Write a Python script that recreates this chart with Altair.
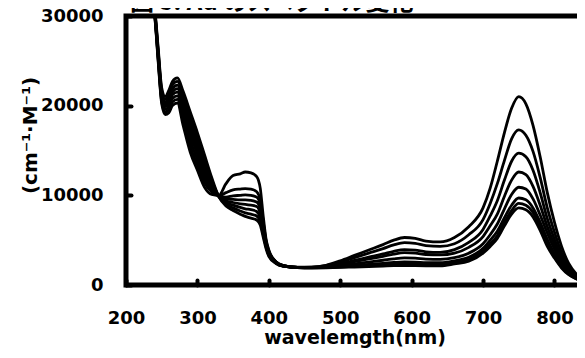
import altair as alt
import pandas as pd

TITLE = "図 5. Ad のスペクトル変化"
X_TITLE = "wavelemgth(nm)"
Y_TITLE = "(cm⁻¹·M⁻¹)"
X_TICKS = [200, 300, 400, 500, 600, 700, 800]
Y_TICKS = [0, 10000, 20000, 30000]

W = [230, 240, 245, 250, 255, 260, 265, 272, 280, 290,
     300, 310, 320, 330, 340, 350, 360, 367, 375, 383,
     388, 392, 396, 400, 410, 420, 440, 460, 480, 500,
     520, 540, 560, 575, 590, 605, 620, 640, 660, 680,
     700, 710, 720, 730, 740, 750, 760, 770, 780, 790,
     800, 810, 820, 830, 840]

C0 = [34000, 30200, 25000, 20200, 19000, 19200, 20000, 20300, 17800, 14800,
      12800, 10900, 10100, 10000, 11300, 12200, 12400, 12600, 12500, 12100,
      10800, 7800, 5200, 3900, 2600, 2200, 1950, 1900, 1920, 1960,
      2010, 2060, 2110, 2150, 2170, 2160, 2140, 2130, 2350, 2650,
      3550, 4300, 5200, 6600, 7900, 8600, 8400, 7600, 6100, 4300,
      3000, 1900, 1150, 700, 400]
C1 = [34000, 30300, 25200, 20450, 19300, 19550, 20400, 20700, 18350, 15450,
      13400, 11400, 10400, 9950, 10300, 10600, 10700, 10750, 10700, 10400,
      9500, 7200, 5000, 3800, 2600, 2200, 1950, 1910, 1940, 2000,
      2080, 2160, 2240, 2300, 2340, 2330, 2290, 2280, 2500, 2850,
      3800, 4600, 5500, 7000, 8300, 9100, 8900, 8100, 6500, 4600,
      3200, 2000, 1200, 720, 420]
C2 = [34000, 30400, 25400, 20700, 19600, 19900, 20800, 21100, 18900, 16100,
      14000, 11900, 10650, 9950, 9800, 9950, 10000, 10050, 10000, 9800,
      9000, 6900, 4800, 3700, 2550, 2150, 1950, 1920, 1960, 2060,
      2180, 2300, 2420, 2520, 2580, 2560, 2500, 2480, 2700, 3100,
      4100, 5000, 6000, 7500, 8900, 9700, 9500, 8600, 7000, 5100,
      3500, 2200, 1300, 780, 450]
C3 = [34000, 30500, 25600, 20950, 19900, 20250, 21200, 21500, 19450, 16750,
      14600, 12400, 10900, 9900, 9600, 9550, 9500, 9500, 9450, 9250,
      8500, 6600, 4700, 3600, 2550, 2150, 1950, 1930, 2000, 2160,
      2360, 2560, 2760, 2920, 3020, 2990, 2890, 2860, 3050, 3550,
      4600, 5600, 6800, 8500, 10100, 10900, 10700, 9600, 7800, 5800,
      4000, 2500, 1450, 850, 480]
C4 = [34000, 30600, 25800, 21200, 20100, 20600, 21500, 21900, 20000, 17400,
      15200, 12900, 11200, 9900, 9400, 9200, 9050, 9000, 8900, 8750,
      8000, 6300, 4600, 3500, 2500, 2100, 1950, 1950, 2050, 2300,
      2600, 2900, 3200, 3450, 3600, 3550, 3400, 3350, 3550, 4200,
      5400, 6600, 7900, 9900, 11700, 12600, 12300, 11000, 8900, 6500,
      4500, 2800, 1600, 900, 500]
C5 = [34000, 30700, 26000, 21450, 20400, 20950, 21900, 22300, 20500, 18000,
      15800, 13500, 11450, 9900, 9200, 8900, 8650, 8500, 8400, 8200,
      7500, 6000, 4400, 3400, 2500, 2100, 1950, 1960, 2080, 2380,
      2740, 3100, 3460, 3760, 3940, 3880, 3700, 3640, 3950, 4750,
      6200, 7700, 9400, 11700, 13800, 14700, 14300, 12800, 10300, 7400,
      5100, 3100, 1800, 1000, 550]
C6 = [34000, 30800, 26200, 21700, 20700, 21300, 22300, 22700, 21050, 18650,
      16400, 14000, 11700, 9850, 9000, 8600, 8250, 8050, 7900, 7700,
      7100, 5700, 4300, 3300, 2450, 2100, 1950, 1980, 2150, 2560,
      3060, 3560, 4060, 4470, 4720, 4640, 4390, 4310, 4600, 5600,
      7300, 9100, 11300, 13900, 16300, 17300, 16700, 14900, 12000, 8600,
      5900, 3600, 2000, 1100, 600]
C7 = [34000, 31000, 26500, 22000, 21000, 21700, 22700, 23100, 21600, 19300,
      17000, 14500, 12000, 9850, 8800, 8300, 7900, 7650, 7450, 7250,
      6700, 5400, 4100, 3200, 2400, 2100, 2000, 2000, 2200, 2700,
      3300, 3900, 4500, 5000, 5300, 5200, 4900, 4800, 5300, 6500,
      8600, 10800, 13800, 17000, 19700, 21000, 20200, 17800, 14300, 10300,
      7000, 4300, 2400, 1300, 700]

CURVES = [C0, C1, C2, C3, C4, C5, C6, C7]

rows = []
for i, c in enumerate(CURVES):
    for w, v in zip(W, c):
        rows.append({"wl": w, "eps": v, "curve": f"c{i}"})
df = pd.DataFrame(rows)

FONT = "DejaVu Sans"

x_axis = alt.Axis(values=X_TICKS, title=X_TITLE, offset=-5, tickSize=5, tickWidth=4,
                  tickColor="black", tickCap="round", labelFont=FONT, labelFontWeight="bold",
                  labelFontSize=18, labelColor="black", labelPadding=24, labelFlush=False,
                  labelOverlap=False, domain=False, grid=False, titleFont=FONT,
                  titleFontSize=19, titleFontWeight="bold", titleColor="black",
                  titleY=57, titleBaseline="middle")
y_axis = alt.Axis(values=Y_TICKS, format="d", title=Y_TITLE, offset=-5, tickSize=5, tickWidth=4,
                  tickColor="black", tickCap="round", labelFont=FONT, labelFontWeight="bold",
                  labelFontSize=18, labelColor="black", labelPadding=23, labelFlush=False,
                  labelOverlap=False, domain=False, grid=False, titleFont=FONT,
                  titleFontSize=20, titleFontWeight="bold", titleColor="black",
                  titleX=-101, titleY=119, titleAngle=270, titleAlign="center",
                  titleBaseline="middle")

lines = alt.Chart(df).mark_line(clip=True, strokeWidth=2.8, interpolate="monotone").encode(
    x=alt.X("wl:Q", scale=alt.Scale(domain=[200, 840], nice=False, zero=False), axis=x_axis),
    y=alt.Y("eps:Q", scale=alt.Scale(domain=[0, 30000], nice=False), axis=y_axis),
    detail="curve:N",
    color=alt.value("black"),
)

title = alt.Chart(pd.DataFrame({"t": [TITLE]})).mark_text(
    align="left", baseline="alphabetic", font="Noto Sans CJK JP", fontWeight="bold",
    fontSize=24, color="black"
).encode(text="t:N", x=alt.value(4), y=alt.value(-6))

chart = alt.layer(lines, title).properties(
    width=457, height=269,
    autosize=alt.AutoSizeParams(type="none"),
    padding={"left": 118, "top": 8, "right": -6, "bottom": 65},
).configure_view(stroke="black", strokeWidth=5)

chart.save("out.html", embed_options={"renderer": "svg", "actions": False})
